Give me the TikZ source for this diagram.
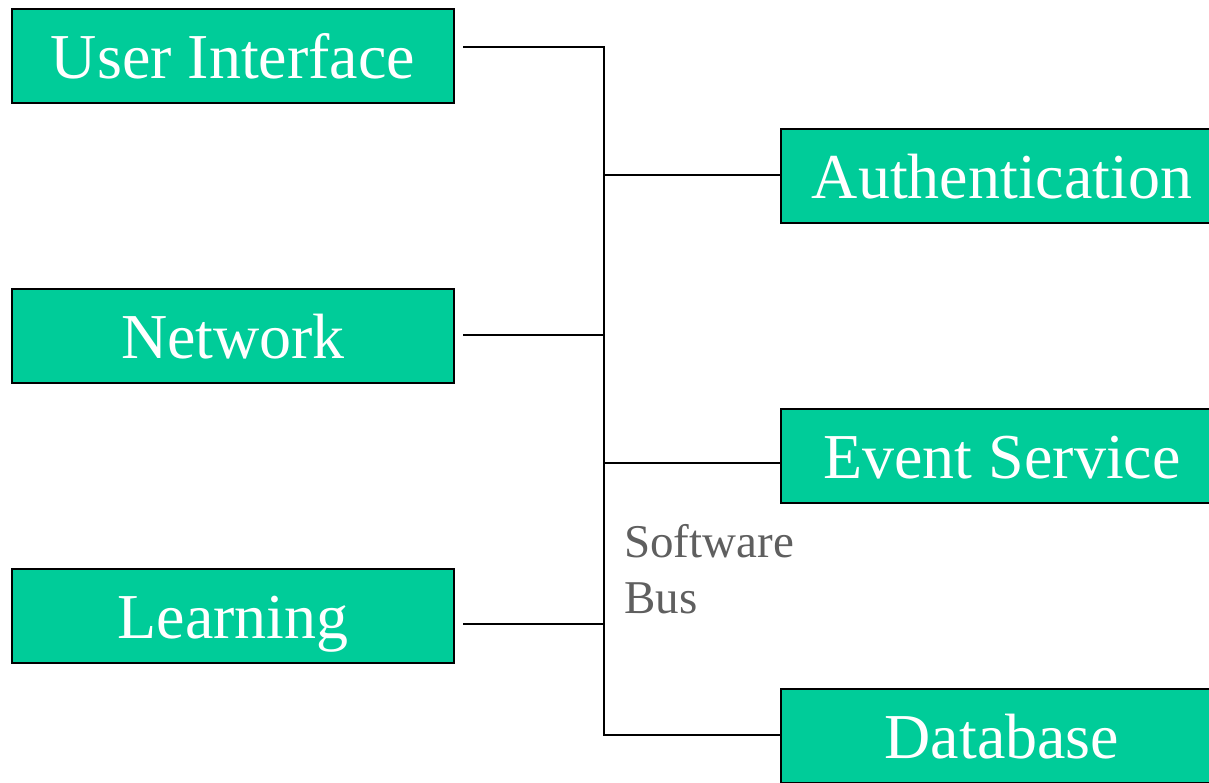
\documentclass[tikz,border=0pt]{standalone}
\usepackage{fontspec}
\setmainfont{Liberation Serif}
\definecolor{boxgreen}{HTML}{00CC99}
\definecolor{busgray}{HTML}{5F5F5F}
\begin{document}
\begin{tikzpicture}[x=1pt,y=-1pt,
  module/.style={draw=black, line width=2pt, fill=boxgreen, minimum width=442pt,
    minimum height=94pt, inner sep=0pt, text=white,
    font=\fontsize{64}{64}\selectfont, text height=44pt, text depth=0pt},
  busline/.style={line width=2pt, draw=black}]
\useasboundingbox (0,0) rectangle (1209,782);
\clip (0,0) rectangle (1209,782);
\fill[white] (0,0) rectangle (1209,782);
% left modules
\node[module] (ui) at (233,56) {User Interface};
\node[module] (net) at (233,336) {Network};
\node[module] (learn) at (233,616) {Learning};
% right modules
\node[module] (auth) at (1002,176) {Authentication};
\node[module] (event) at (1002,456) {Event Service};
\node[module] (db) at (1002,736) {Database};
% bus coordinates
\coordinate (bustop) at (604,47);
\coordinate (busbot) at (604,735);
\coordinate (uiend) at (463,47);
\coordinate (netend) at (463,335);
\coordinate (netbus) at (604,335);
\coordinate (learnend) at (463,624);
\coordinate (learnbus) at (604,624);
\coordinate (authbus) at (604,175);
\coordinate (eventbus) at (604,463);
% bus
\draw[busline] (uiend) -- (bustop) -- (busbot) -- (busbot -| db.west);
\draw[busline] (netend) -- (netbus);
\draw[busline] (learnend) -- (learnbus);
\draw[busline] (authbus) -- (authbus -| auth.west);
\draw[busline] (eventbus) -- (eventbus -| event.west);
% label
\node[anchor=north west, inner sep=0pt, align=left, text=busgray,
  font=\fontsize{47}{56}\selectfont] (buslabel) at (624,524) {Software\\Bus};
\end{tikzpicture}
\end{document}
